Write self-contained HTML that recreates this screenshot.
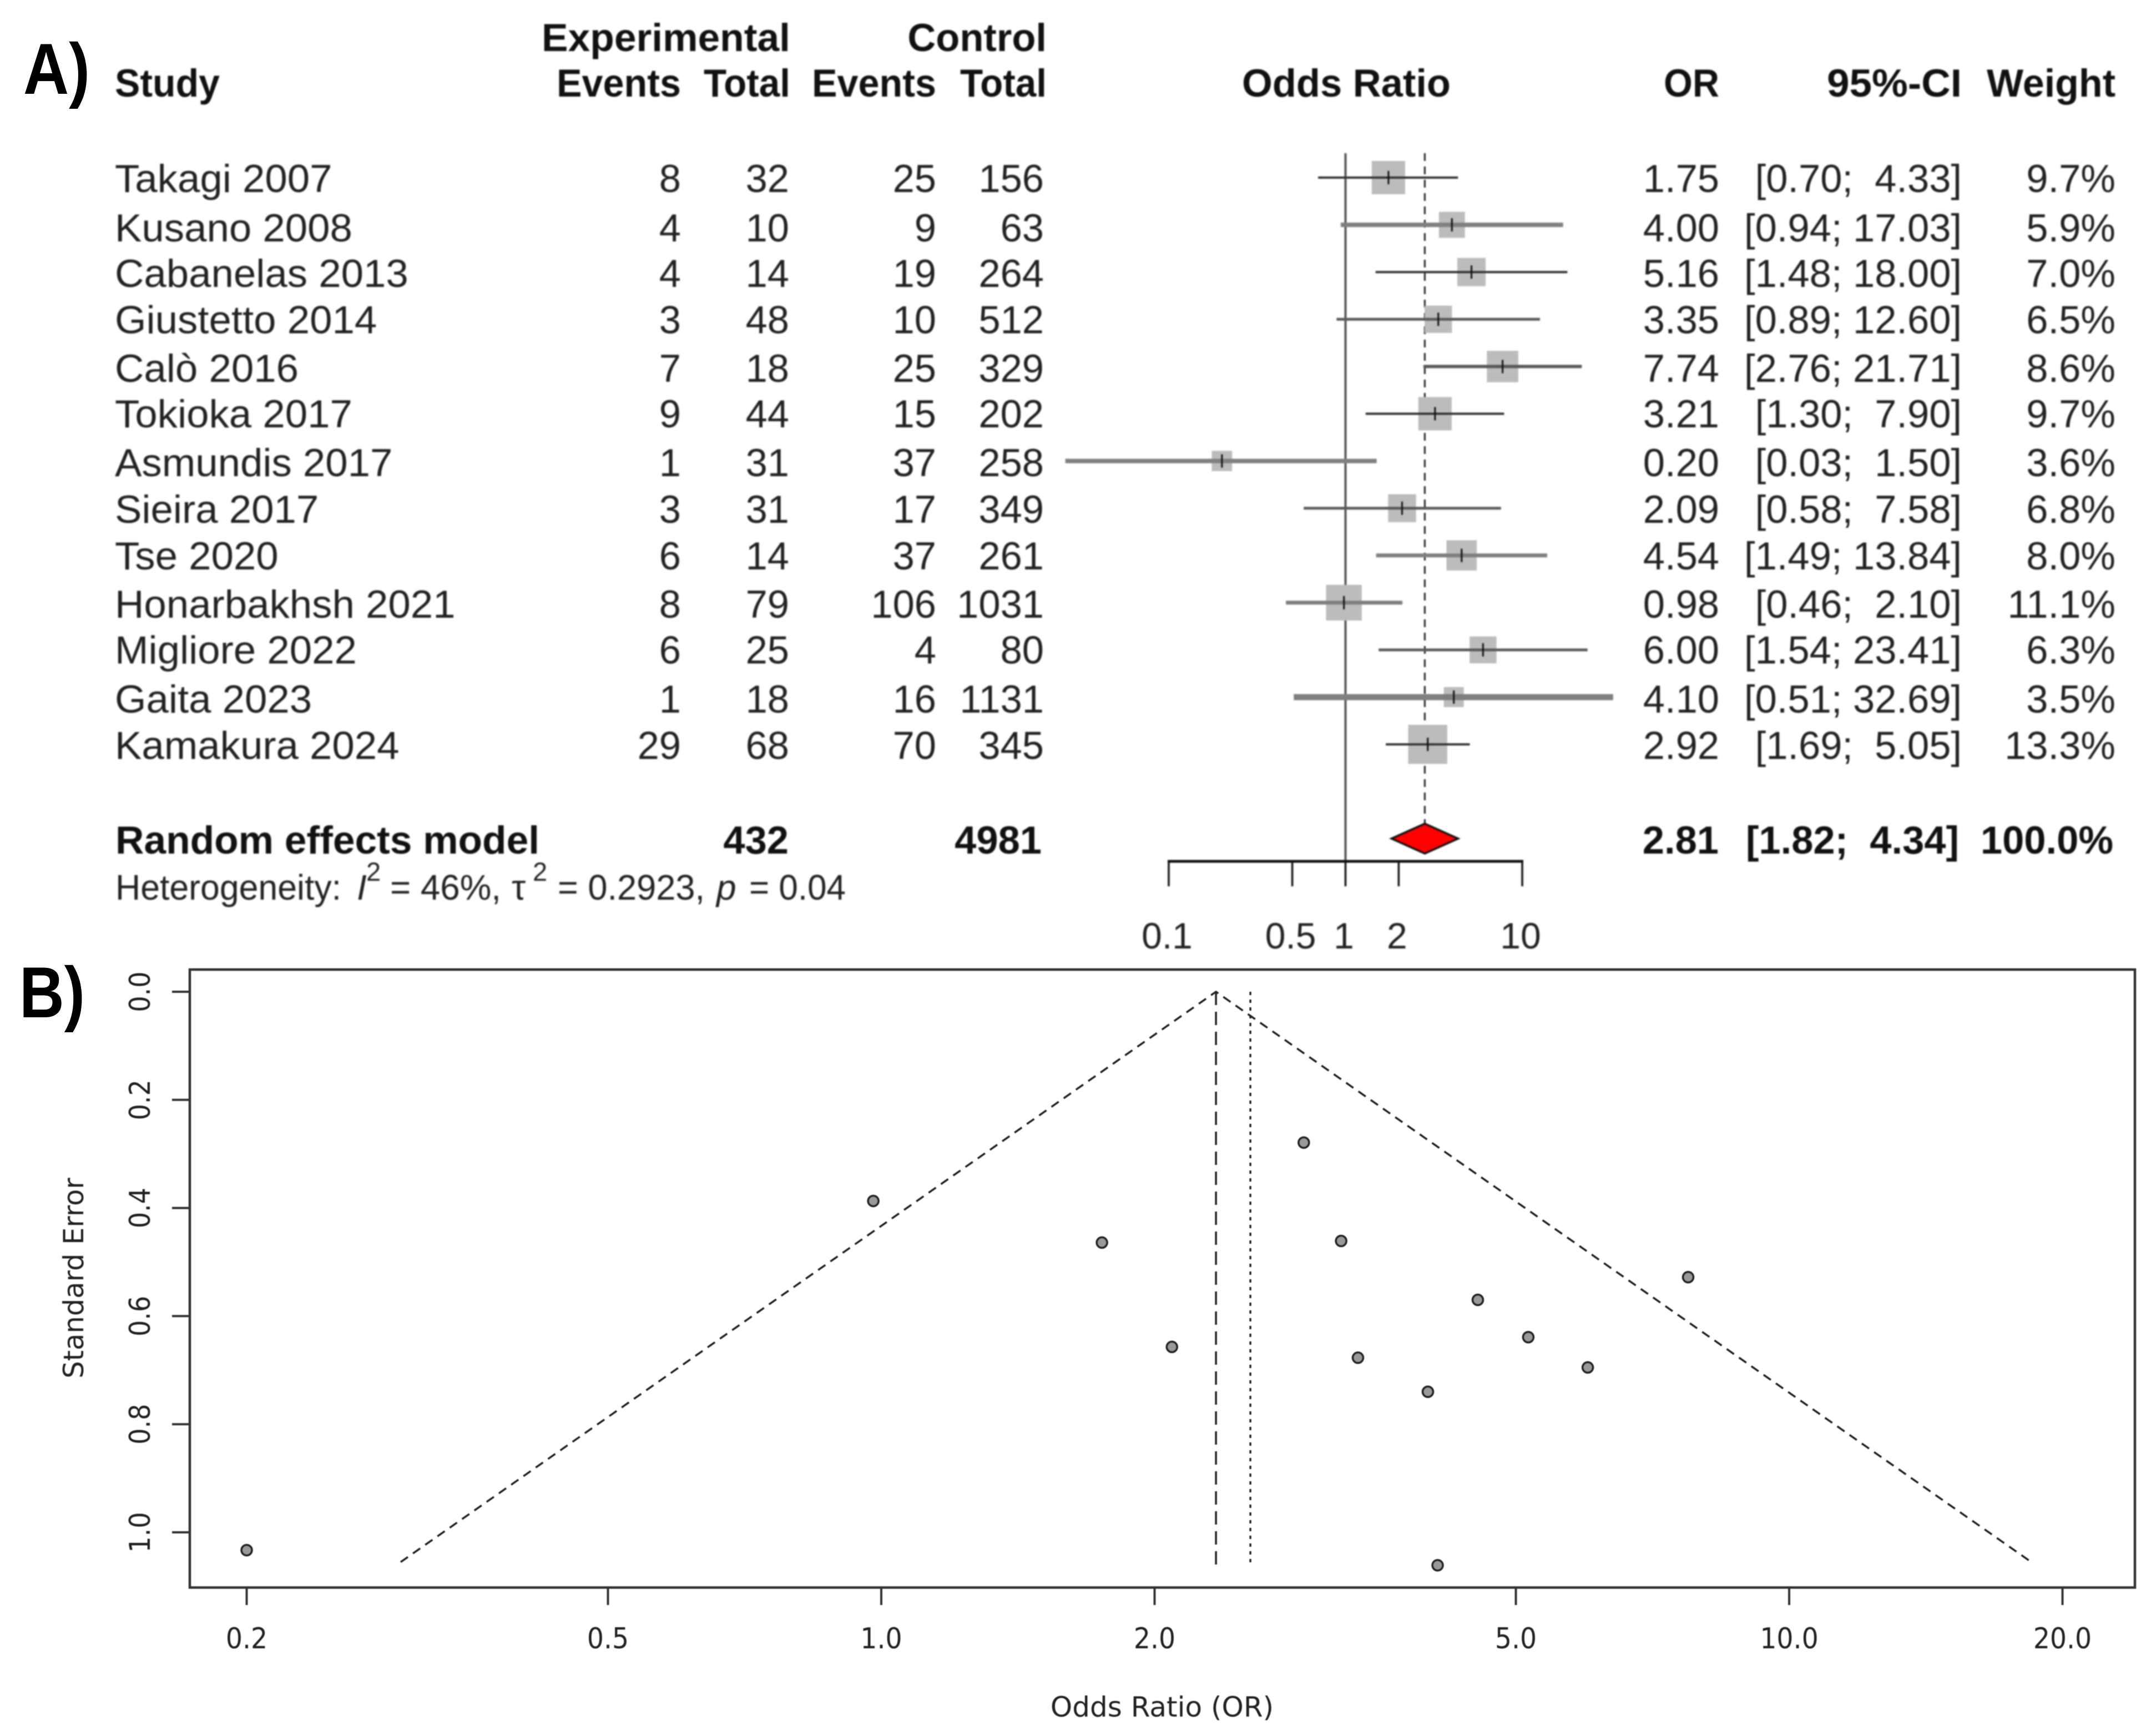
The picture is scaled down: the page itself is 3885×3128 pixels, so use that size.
<!DOCTYPE html>
<html lang="en">
<head>
<meta charset="utf-8">
<title>Forest and funnel plots</title>
<style>
html,body{margin:0;padding:0;background:#fff;width:3885px;height:3128px;overflow:hidden}
svg{display:block}
text{white-space:pre;font-family:"Liberation Sans",sans-serif;fill:#222}
.b{font-weight:bold;fill:#111}
.dj{font-family:"DejaVu Sans",sans-serif}
#forest{filter:blur(1.4px)}
#funnel{filter:blur(.8px)}
</style>
</head>
<body>
<svg id="figure" xmlns="http://www.w3.org/2000/svg" width="3885" height="3128" viewBox="0 0 3885 3128">
<rect width="3885" height="3128" fill="#fff"/>
<g id="labels"></g>
<g id="forest"></g>
<g id="funnel"></g>
</svg>
<script>
// ---- data ----
const studies = ["Takagi 2007","Kusano 2008","Cabanelas 2013","Giustetto 2014","Calò 2016","Tokioka 2017","Asmundis 2017","Sieira 2017","Tse 2020","Honarbakhsh 2021","Migliore 2022","Gaita 2023","Kamakura 2024"];
const expEvents = [8,4,4,3,7,9,1,3,6,8,6,1,29];
const expTotal = [32,10,14,48,18,44,31,31,14,79,25,18,68];
const ctrlEvents = [25,9,19,10,25,15,37,17,37,106,4,16,70];
const ctrlTotal = [156,63,264,512,329,202,258,349,261,1031,80,1131,345];
const oddsRatio = [1.75,4.00,5.16,3.35,7.74,3.21,0.20,2.09,4.54,0.98,6.00,4.10,2.92];
const ciLow = [0.70,0.94,1.48,0.89,2.76,1.30,0.026,0.58,1.49,0.46,1.54,0.51,1.69];
const ciHigh = [4.33,17.03,18.00,12.60,21.71,7.90,1.50,7.58,13.84,2.10,23.41,32.69,5.05];
const weight = [9.7,5.9,7.0,6.5,8.6,9.7,3.6,6.8,8.0,11.1,6.3,3.5,13.3];
const standardError = [0.464,0.740,0.639,0.677,0.528,0.461,1.033,0.657,0.570,0.387,0.695,1.061,0.279];
const pooled = [2.81,1.82,4.34];
const pooledTotals = [432,4981];
const forestTicks = [0.1,0.5,1,2,10];
const forestTickLabels = ["0.1","0.5","1","2","10"];
const funnelXTicks = [0.2,0.5,1,2,5,10,20];
const funnelXTickLabels = ["0.2","0.5","1.0","2.0","5.0","10.0","20.0"];
const funnelYTicks = [0,0.2,0.4,0.6,0.8,1.0];
const funnelYTickLabels = ["0.0","0.2","0.4","0.6","0.8","1.0"];
const commonEffect = [2.337];
const randomEffect = [2.55];
const funnelMaxSE = [1.055];

// ---- axis functions ----
const fx = v => 2424.5 + 318.5 * Math.log10(v);
const rowY = i => 320 + 85.1 * i;
const px = v => 1588 + 1636 * Math.log10(v);
const py = s => 1787 + 974 * s;

// ---- row rendering details (resampling artefacts of the source image) ----
function rowTextOffset(i) { return [26,30,27,25,27.6,24.5,27.4,26.3,25,27,24.7,28,26.5][i]; }
function ciStrokeWidth(i) { return [4,8,4,5,6,4,8,5,7,7,5,11,4][i]; }
function ciStrokeColor(i) { const w = ciStrokeWidth(i); return w >= 7 ? "#808080" : (w >= 5 ? "#5a5a5a" : "#333"); }

const NS = "http://www.w3.org/2000/svg";
const labels = document.getElementById("labels");
const forest = document.getElementById("forest");
const funnel = document.getElementById("funnel");
function mk(parent, tag, attrs, txt) {
  const el = document.createElementNS(NS, tag);
  for (const k in attrs) el.setAttribute(k, attrs[k]);
  if (txt !== undefined) el.textContent = txt;
  parent.appendChild(el);
  return el;
}
let el;

// ---- panel labels ----
el = mk(labels, "text", {x:42, y:169, "font-size":130, "font-weight":"bold", textLength:120, lengthAdjust:"spacingAndGlyphs", style:"fill:#000"}, "A)");


el = mk(labels, "text", {x:35, y:1833, "font-size":130, "font-weight":"bold", textLength:118, lengthAdjust:"spacingAndGlyphs", style:"fill:#000"}, "B)");



// ---- forest header ----
function head(label, x, y, anchor, len, name) {
  const a = {x:x, y:y, class:"b", "font-size":70.5, "text-anchor":anchor};
  if (len) { a.textLength = len; a.lengthAdjust = "spacingAndGlyphs"; }
  const h = mk(forest, "text", a, label);
  
  
}
head("Experimental", 1424, 92, "end", 448, "header-experimental");
head("Control", 1886, 92, "end", 0, "header-control");
head("Study", 207, 174, "start", 189, "header-study");
head("Events", 1227, 174, "end", 224, "header-exp-events");
head("Total", 1424, 174, "end", 156, "header-exp-total");
head("Events", 1687, 174, "end", 224, "header-ctrl-events");
head("Total", 1886, 174, "end", 156, "header-ctrl-total");
head("Odds Ratio", 2426, 174, "middle", 0, "header-odds-ratio");
head("OR", 3098, 174, "end", 100, "header-or");
head("95%-CI", 3535, 174, "end", 243, "header-ci");
head("Weight", 3812, 174, "end", 232, "header-weight");

// ---- forest reference lines ----
el = mk(forest, "line", {x1:fx(1), x2:fx(1), y1:276, y2:1552, stroke:"#555", "stroke-width":4});


el = mk(forest, "line", {x1:fx(pooled[0]), x2:fx(pooled[0]), y1:276, y2:1484, stroke:"#222", "stroke-width":3, "stroke-dasharray":"14 10"});



// ---- forest rows ----
const fmtCI = (lo, hi) => "[" + lo.toFixed(2) + ";" + (hi < 10 ? "  " : " ") + hi.toFixed(2) + "]";
studies.forEach((s, i) => {
  const y = rowY(i), t = y + rowTextOffset(i);
  const g = mk(forest, "g", {});
  
  
  const size = 19.3 * Math.sqrt(weight[i]);
  const box = mk(g, "rect", {x:fx(oddsRatio[i]) - size/2, y:y - size/2, width:size, height:size, fill:"#bcbcbc"});
  
  
  const ci = mk(g, "line", {x1:fx(ciLow[i]), x2:fx(ciHigh[i]), y1:y, y2:y, stroke:ciStrokeColor(i), "stroke-width":ciStrokeWidth(i)});
  
  
  const tick = mk(g, "line", {x1:fx(oddsRatio[i]), x2:fx(oddsRatio[i]), y1:y - 12, y2:y + 12, stroke:"#111", "stroke-width":3});
  
  
  const c1 = mk(g, "text", {"font-size":70.5, transform:"translate(207," + t + ") scale(1.03,1)"}, s);
  
  
  const c2 = mk(g, "text", {x:1227, y:t, "font-size":70.5, "text-anchor":"end"}, String(expEvents[i]));
  
  
  const c3 = mk(g, "text", {x:1422, y:t, "font-size":70.5, "text-anchor":"end"}, String(expTotal[i]));
  
  
  const c4 = mk(g, "text", {x:1687, y:t, "font-size":70.5, "text-anchor":"end"}, String(ctrlEvents[i]));
  
  
  const c5 = mk(g, "text", {x:1881, y:t, "font-size":70.5, "text-anchor":"end"}, String(ctrlTotal[i]));
  
  
  const c6 = mk(g, "text", {x:3098, y:t, "font-size":70.5, "text-anchor":"end"}, oddsRatio[i].toFixed(2));
  
  
  const c7 = mk(g, "text", {x:3535, y:t, "font-size":70.5, "text-anchor":"end"}, fmtCI(ciLow[i], ciHigh[i]));
  
  
  const c8 = mk(g, "text", {x:3812, y:t, "font-size":70.5, "text-anchor":"end"}, weight[i].toFixed(1) + "%");
  
  
});

// ---- pooled row ----
function bold(label, x, anchor, len, name) {
  const a = {x:x, y:1538, class:"b", "font-size":70.5, "text-anchor":anchor};
  if (len) { a.textLength = len; a.lengthAdjust = "spacingAndGlyphs"; }
  const b = mk(forest, "text", a, label);
  
  
}
bold("Random effects model", 208, "start", 764, "pooled-label");
bold(String(pooledTotals[0]), 1421, "end", 0, "pooled-exp-total");
bold(String(pooledTotals[1]), 1877, "end", 0, "pooled-ctrl-total");
bold(pooled[0].toFixed(2), 3097, "end", 0, "pooled-or");
bold(fmtCI(pooled[1], pooled[2]), 3530, "end", 0, "pooled-ci");
bold("100.0%", 3808, "end", 0, "pooled-weight");
el = mk(forest, "polygon", {points:[[fx(pooled[1]),1511],[fx(pooled[0]),1484],[fx(pooled[2]),1511],[fx(pooled[0]),1538]].map(p => p.join(",")).join(" "), fill:"#f00", stroke:"#111", "stroke-width":3.5});



// ---- heterogeneity ----
function het(label, x, y, size, style, len, name) {
  const a = {x:x, y:y, "font-size":size, "font-style":style};
  if (len) { a.textLength = len; a.lengthAdjust = "spacingAndGlyphs"; }
  const h = mk(forest, "text", a, label);
  
  
}
het("Heterogeneity:", 208, 1621, 64, "normal", 407, "heterogeneity-label");
het("I", 643, 1621, 64, "italic", 0, "i-squared-symbol");
het("2", 660, 1587, 47, "normal", 0, "i-squared-exponent");
het("= 46%,", 703, 1621, 64, "normal", 200, "i-squared-value");
het("τ", 922, 1621, 64, "normal", 0, "tau-squared-symbol");
het("2", 960, 1587, 47, "normal", 0, "tau-squared-exponent");
het("= 0.2923,", 1005, 1621, 64, "normal", 265, "tau-squared-value");
het("p", 1291, 1621, 64, "italic", 0, "p-symbol");
het("= 0.04", 1350, 1621, 64, "normal", 174, "p-value");

// ---- forest axis ----
el = mk(forest, "line", {x1:fx(0.1) - 2, x2:fx(10) + 2, y1:1552, y2:1552, stroke:"#111", "stroke-width":5});


forestTicks.forEach((v, i) => {
  const tk = mk(forest, "line", {x1:fx(v), x2:fx(v), y1:1552, y2:1597, stroke:"#111", "stroke-width":3.5});
  
  
  const lb = mk(forest, "text", {x:fx(v) - 3, y:1709, "font-size":66, "text-anchor":"middle"}, forestTickLabels[i]);
  
  
});

// ---- funnel frame & axes ----
el = mk(funnel, "rect", {x:342, y:1747, width:3505, height:1113.5, fill:"none", stroke:"#333", "stroke-width":4.5});


funnelYTicks.forEach((v, i) => {
  const tk = mk(funnel, "line", {x1:310, x2:342, y1:py(v), y2:py(v), stroke:"#333", "stroke-width":4});
  
  
  const lb = mk(funnel, "text", {class:"dj", "font-size":46, "text-anchor":"middle", transform:"translate(270," + py(v) + ") rotate(-90) scale(1,1.13)"}, funnelYTickLabels[i]);
  
  
});
funnelXTicks.forEach((v, i) => {
  const tk = mk(funnel, "line", {x1:px(v), x2:px(v), y1:2860, y2:2892, stroke:"#333", "stroke-width":4});
  
  
  const lb = mk(funnel, "text", {class:"dj", "font-size":52, "text-anchor":"middle", transform:"translate(" + px(v) + ",2970) scale(.91,1)"}, funnelXTickLabels[i]);
  
  
});
el = mk(funnel, "text", {class:"dj", x:2094, y:3093, "font-size":50, "text-anchor":"middle"}, "Odds Ratio (OR)");


el = mk(funnel, "text", {class:"dj", "font-size":49.5, "text-anchor":"middle", transform:"translate(150,2303) rotate(-90)"}, "Standard Error");



// ---- funnel lines ----
const spread = 1.96 * Math.LOG10E * funnelMaxSE[0];
const cx0 = Math.log10(commonEffect[0]);
const funnelPoints = [[px(Math.pow(10, cx0 - spread)), py(funnelMaxSE[0])], [px(commonEffect[0]), py(0)], [px(Math.pow(10, cx0 + spread)), py(funnelMaxSE[0])]];
el = mk(funnel, "polyline", {points:funnelPoints.map(p => p.join(",")).join(" "), fill:"none", stroke:"#222", "stroke-width":3.5, "stroke-dasharray":"16 11"});


el = mk(funnel, "line", {x1:px(commonEffect[0]), x2:px(commonEffect[0]), y1:py(0), y2:py(funnelMaxSE[0]) + 5, stroke:"#222", "stroke-width":3.5, "stroke-dasharray":"24 12"});


el = mk(funnel, "line", {x1:px(randomEffect[0]), x2:px(randomEffect[0]), y1:py(0), y2:py(funnelMaxSE[0]) + 2, stroke:"#222", "stroke-width":3.5, "stroke-dasharray":"6 8"});



// ---- funnel points ----
oddsRatio.forEach((v, i) => {
  const p = mk(funnel, "circle", {cx:px(v), cy:py(standardError[i]), r:9.5, fill:"#999", stroke:"#222", "stroke-width":3.5});
  
  
});
</script>
</body>
</html>
